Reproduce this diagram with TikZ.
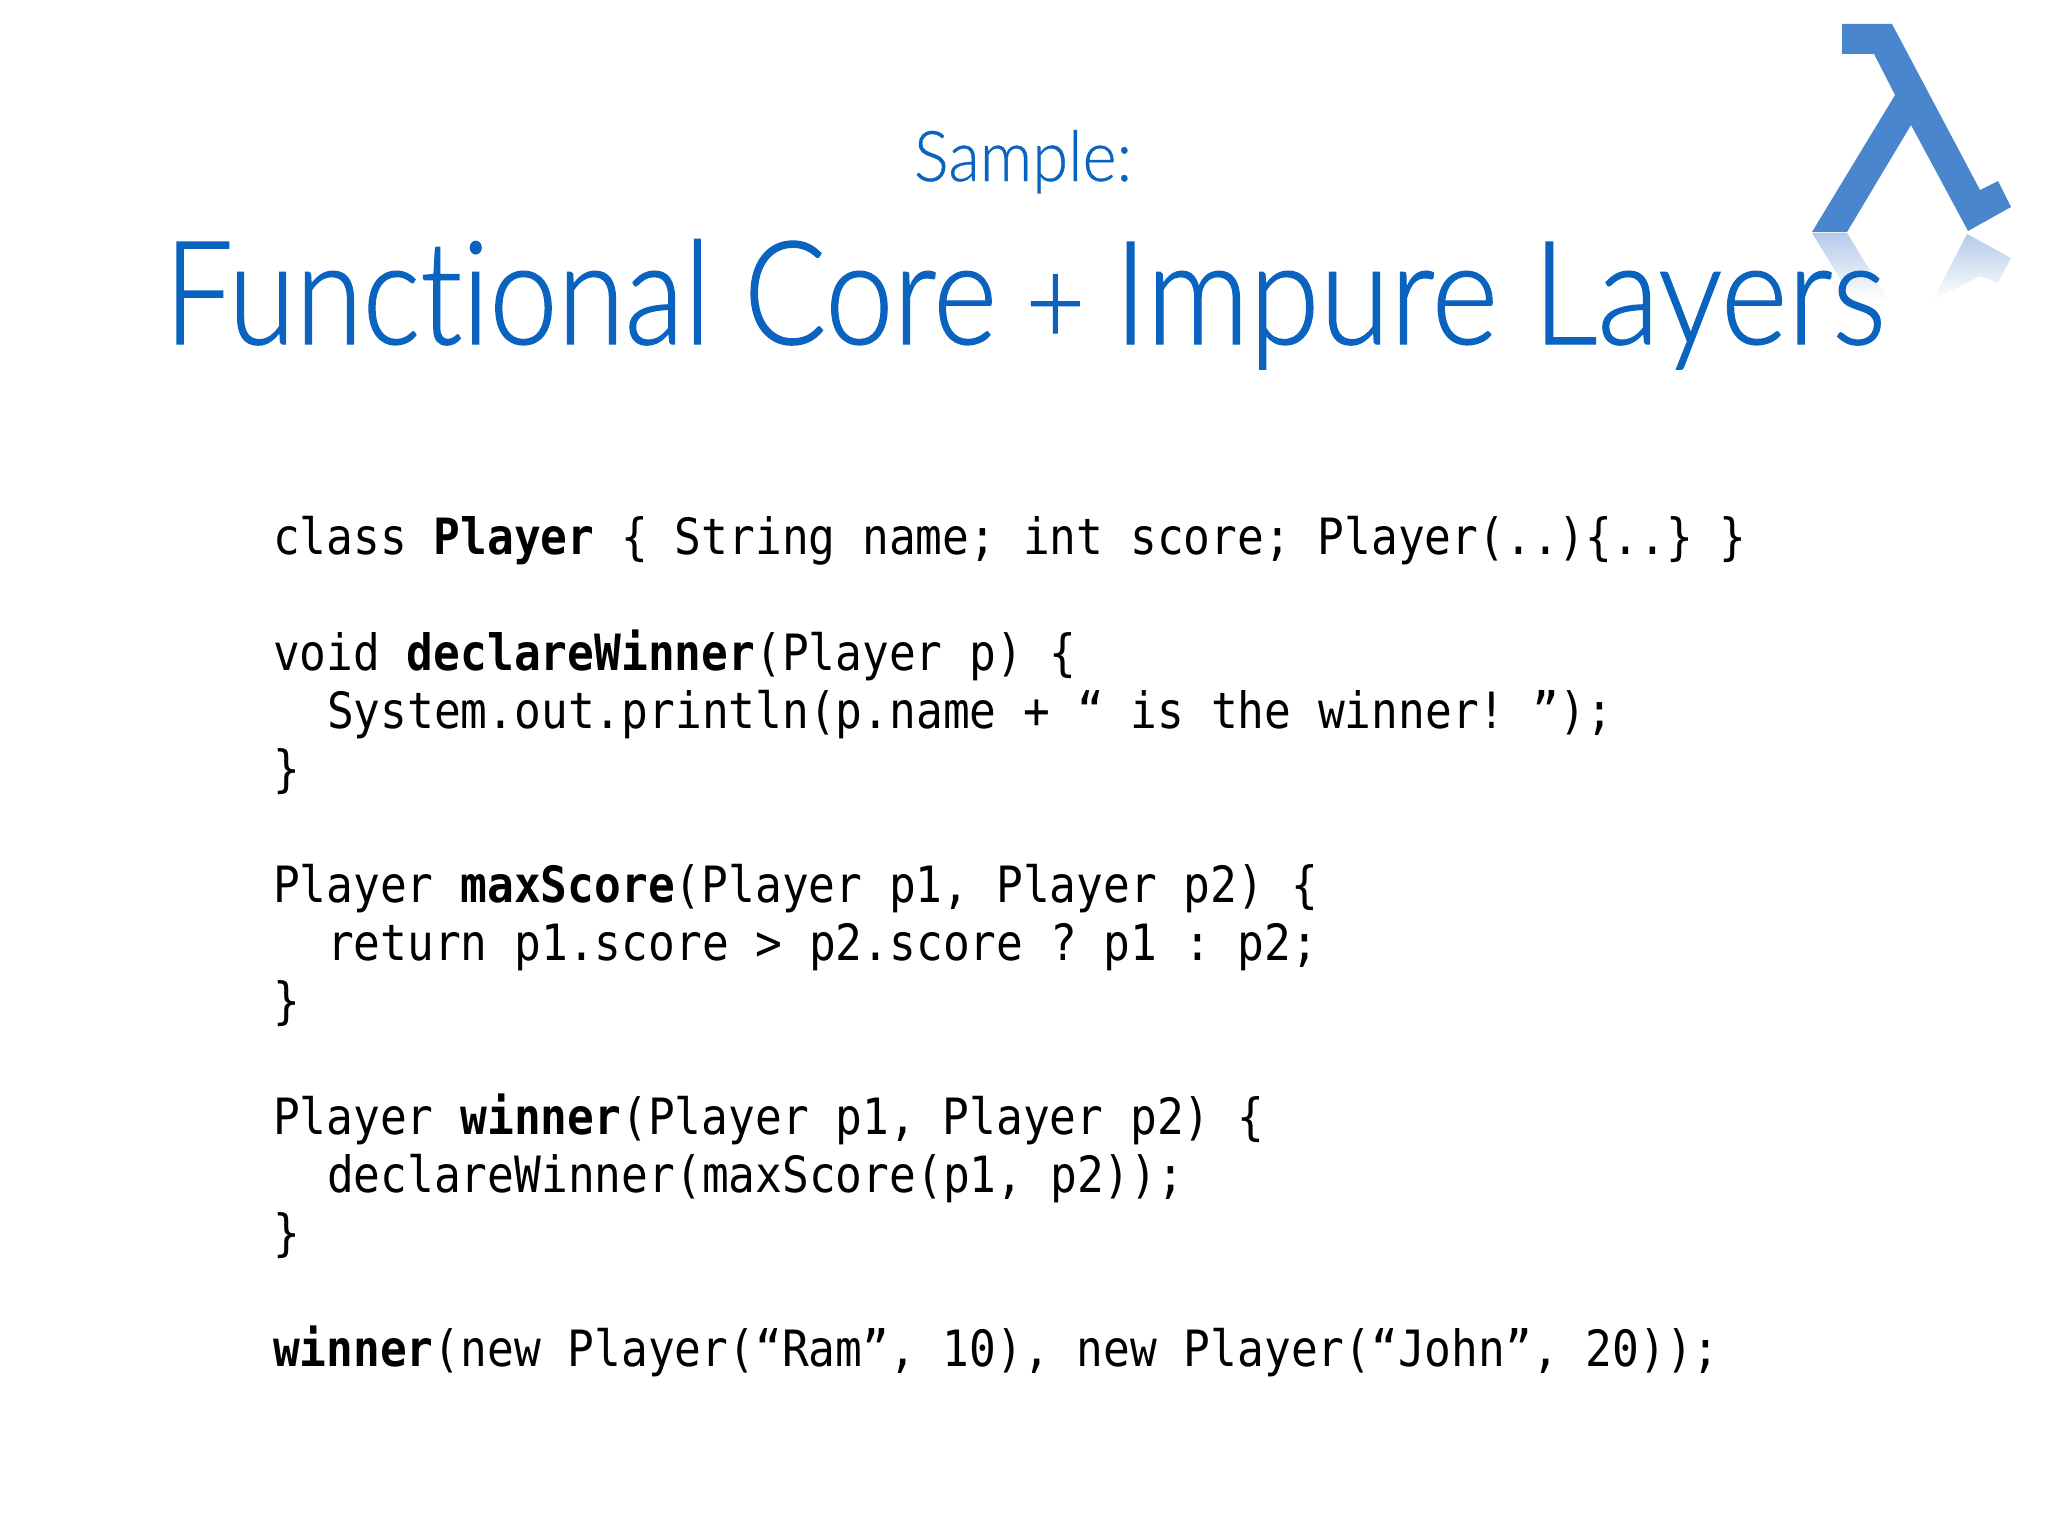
\documentclass[tikz,border=0pt]{standalone}
\usepackage{fontspec}
\setmainfont{Lato}
\newfontfamily\codefont[FakeStretch=0.89,BoldFont={DejaVu Sans Mono Bold},BoldFeatures={FakeStretch=0.89}]{DejaVu Sans Mono}
\newfontfamily\titlefont[FakeStretch=0.848,FakeBold=0.9,Ligatures=NoCommon]{Lato Light}
\newfontfamily\titlefontb[FakeStretch=0.887,FakeBold=0.9,Ligatures=NoCommon]{Lato Light}
\newfontfamily\samplefont[FakeStretch=0.93,FakeBold=0.5,Ligatures=NoCommon]{Lato Light}
\definecolor{titleblue}{HTML}{0A63BE}
\definecolor{lambdablue}{HTML}{4A86CE}
\definecolor{reflectblue}{HTML}{B4CBE9}
\newcommand{\kw}[1]{\textbf{#1}}
\tikzset{
  codeline/.style={anchor=base west,inner sep=0pt,outer sep=0pt,text=black,font=\codefont\fontsize{25}{30}\selectfont\frenchspacing},
  titletext/.style={anchor=base,inner sep=0pt,outer sep=0pt,text=titleblue},
  reflect/.style={draw=none,top color=reflectblue,bottom color=white}
}
\begin{document}
\begin{tikzpicture}[x=0.5pt,y=-0.5pt]
\useasboundingbox (0,0) rectangle (2048,1536);
\fill[white] (0,0) rectangle (2048,1536);
% reflection of the lambda
\shade[reflect] (1812,233) -- (1847,233) -- (1888,300) -- (1853,300) -- cycle;
\shade[reflect] (1967,234) -- (2011,258) -- (1998,283) -- (1980,276) -- (1933,300) -- cycle;
% lambda
\fill[lambdablue] (1842,24) -- (1892,24) -- (1980,190) -- (1998,181) -- (2011,207) -- (1968,231) -- (1911,125) -- (1847,232) -- (1812,232) -- (1895,95) -- (1874,54) -- (1842,54) -- cycle;
% titles
\node[titletext,font=\samplefont\fontsize{35}{40}\selectfont] (sample) at (1023,181) {Sample:};
\node[titletext,font=\titlefont\fontsize{72}{80}\selectfont] (title) at (1025,344) {Functional Core\kern-2pt{} {\fontsize{60}{80}\selectfont +}\kern-2pt{} {\titlefontb\fontsize{72}{80}\selectfont Impure Layers}};
% code
\node[codeline] (l0) at (273,554.5) {class \kw{Player} \{ String name; int score; Player(..)\{..\} \}};
\node[codeline] (l2) at (273,670.5) {void \kw{declareWinner}(Player p) \{};
\node[codeline] (l3) at (327,728.5) {System.out.println(p.name + “ is the winner! ”);};
\node[codeline] (l4) at (273,786.5) {\}};
\node[codeline] (l6) at (273,902.5) {Player \kw{maxScore}(Player p1, Player p2) \{};
\node[codeline] (l7) at (327,960.5) {return p1.score > p2.score ? p1 : p2;};
\node[codeline] (l8) at (273,1018.5) {\}};
\node[codeline] (l10) at (273,1134.5) {Player \kw{winner}(Player p1, Player p2) \{};
\node[codeline] (l11) at (327,1192.5) {declareWinner(maxScore(p1, p2));};
\node[codeline] (l12) at (273,1250.5) {\}};
\node[codeline] (l14) at (273,1366.5) {\kw{winner}(new Player(“Ram”, 10), new Player(“John”, 20));};
\end{tikzpicture}
\end{document}
